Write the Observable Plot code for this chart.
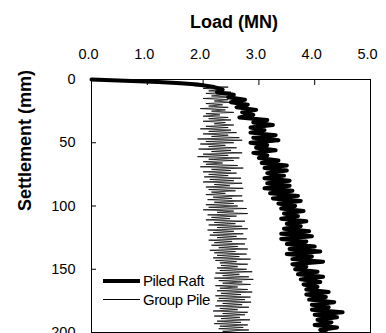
<!DOCTYPE html>
<html>
<head>
<meta charset="utf-8">
<script src="https://cdn.jsdelivr.net/npm/d3@7"></script>
<script src="https://cdn.jsdelivr.net/npm/@observablehq/plot@0.6"></script>
<style>
  html, body { margin: 0; padding: 0; background: #fff; }
  #wrap { position: relative; width: 386px; height: 333px; overflow: hidden; font-family: Arial, "Liberation Sans", sans-serif; }
  .leg { position: absolute; left: 103px; display: flex; align-items: center; font-size: 15px; letter-spacing: -0.4px; color: #000; }
  .leg .sw { width: 37px; background: #000; margin-right: 3px; }
</style>
</head>
<body>
<div id="wrap">
  <div id="chart"></div>
  <div class="leg" style="top:272px"><div class="sw" style="height:4px"></div><span>Piled Raft</span></div>
  <div class="leg" style="top:291px"><div class="sw" style="height:1px"></div><span>Group Pile</span></div>
</div>
<script>
// Load tick labels (MN) and settlement ticks (mm)
const xTicks = [0, 1, 2, 3, 4, 5];
const yTicks = [0, 50, 100, 150, 200];

// Piled Raft: settlement (mm) and load (MN)
const raftSettle = [0,1,2,3,4,5,6,8,10,12,14,16,18,20,22,24,26,28,30,32,34,36,38,40,42,44,46,48,50,52,54,56,58,60,62,64,66,68,70,72,74,76,78,80,82,84,86,88,90,92,94,96,98,100,102,104,106,108,110,112,114,116,118,120,122,124,126,128,130,132,134,136,138,140,142,144,146,148,150,152,154,156,158,160,162,164,166,168,170,172,174,176,178,180,182,184,186,188,190,192,194,196,198,200];
const raftLoad = [0,0.6,1.2,1.6,1.9,2.05,2.2,2.35,2.25,2.55,2.45,2.75,2.5,2.8,2.6,2.95,2.7,2.9,2.65,3.15,2.9,3.25,2.85,3.1,2.85,3.3,2.9,3.35,2.85,3.15,2.95,3.3,2.9,3.15,3.0,3.35,3.05,3.5,3.1,3.5,3.15,3.45,3.1,3.55,3.15,3.55,3.1,3.6,3.2,3.7,3.25,3.75,3.35,3.65,3.4,3.8,3.45,3.7,3.4,3.85,3.5,3.75,3.45,3.9,3.4,3.95,3.4,3.85,3.5,4.0,3.55,4.1,3.5,3.95,3.6,4.15,3.6,3.85,3.65,4.05,3.7,4.15,3.75,4.1,3.8,4.05,3.85,4.25,3.85,4.2,3.9,4.35,3.95,4.25,3.95,4.5,4.0,4.4,4.05,4.3,4.0,4.4,4.1,4.2];

// Group Pile: settlement (mm) and load (MN)
const groupSettle = [0,1,2,3,4,5,6,7,8,9,10,11,12,13,14,15,16,17,18,19,20,21,22,23,24,25,26,27,28,29,30,31,32,33,34,35,36,37,38,39,40,41,42,43,44,45,46,47,48,49,50,51,52,53,54,55,56,57,58,59,60,61,62,63,64,65,66,67,68,69,70,71,72,73,74,75,76,77,78,79,80,81,82,83,84,85,86,87,88,89,90,91,92,93,94,95,96,97,98,99,100,101,102,103,104,105,106,107,108,109,110,111,112,113,114,115,116,117,118,119,120,121,122,123,124,125,126,127,128,129,130,131,132,133,134,135,136,137,138,139,140,141,142,143,144,145,146,147,148,149,150,151,152,153,154,155,156,157,158,159,160,161,162,163,164,165,166,167,168,169,170,171,172,173,174,175,176,177,178,179,180,181,182,183,184,185,186,187,188,189,190,191,192,193,194,195,196,197,198,199,200];
const groupLoad = [0,0.85,1.4,1.75,2.05,1.85,2.45,2.0,2.35,2.1,2.5,2.05,2.4,2.15,2.55,2.0,2.45,2.2,2.5,2.05,2.35,2.1,2.45,1.95,2.4,2.15,2.55,2.05,2.3,2.0,2.45,2.1,2.5,2.0,2.4,2.2,2.55,2.05,2.45,1.95,2.5,2.1,2.6,2.0,2.45,2.15,2.65,1.9,2.7,2.05,2.55,1.95,2.4,2.1,2.6,1.92,2.5,2.15,2.7,2.0,2.45,1.9,2.65,2.1,2.55,2.0,2.35,2.05,2.62,1.95,2.72,2.15,2.5,2.0,2.6,2.1,2.45,2.02,2.68,2.12,2.55,2.0,2.7,2.2,2.48,2.05,2.72,2.1,2.58,2.15,2.4,2.05,2.7,2.18,2.52,2.08,2.72,2.2,2.55,2.05,2.62,2.1,2.78,2.0,2.55,2.25,2.8,2.08,2.6,2.15,2.48,2.05,2.75,2.2,2.58,2.1,2.7,2.25,2.8,2.08,2.55,2.18,2.72,2.12,2.6,2.25,2.78,2.1,2.52,2.2,2.75,2.15,2.62,2.28,2.8,2.12,2.58,2.2,2.78,2.25,2.65,2.18,2.85,2.22,2.6,2.3,2.8,2.32,2.62,2.25,2.78,2.3,2.88,2.22,2.65,2.35,2.82,2.2,2.9,2.28,2.7,2.35,2.85,2.22,2.62,2.3,2.8,2.25,2.88,2.32,2.68,2.22,2.85,2.28,2.75,2.25,2.86,2.35,2.7,2.22,2.82,2.3,2.62,2.18,2.8,2.35,2.75,2.2,2.66,2.32,2.84,2.25,2.68,2.2,2.8,2.3,2.72,2.28,2.82,2.35,2.62];

const raft = raftSettle.map((s, i) => ({settle: s, load: raftLoad[i]}));
const group = groupSettle.map((s, i) => ({settle: s, load: groupLoad[i]}));

const chart = Plot.plot({
  width: 386,
  height: 333,
  marginLeft: 91,
  marginRight: 16,
  marginTop: 79,
  marginBottom: 1,
  style: {fontFamily: "Arial, 'Liberation Sans', sans-serif", fontSize: "14.5px", color: "#000", background: "#fff", overflow: "visible"},
  x: {domain: [0, 5]},
  y: {domain: [0, 200], reverse: true},
  marks: [
    Plot.line(raft, {x: "load", y: "settle", stroke: "#000", strokeWidth: 4, strokeLinejoin: "round"}),
    Plot.line(group, {x: "load", y: "settle", stroke: "#000", strokeWidth: 0.75}),
    Plot.frame({stroke: "#000", strokeWidth: 1}),
    Plot.axisX({anchor: "top", ticks: xTicks, tickSize: -5, tickFormat: () => "", label: null}),
    Plot.text(xTicks, {x: d => d, frameAnchor: "top", dx: -3, dy: -25, text: d => d.toFixed(1), fontSize: 14.5, lineAnchor: "middle"}),
    Plot.axisY({anchor: "left", ticks: yTicks, tickSize: 0, tickPadding: 16, label: null}),
    Plot.axisY({anchor: "left", ticks: yTicks, tickSize: -5, tickFormat: () => "", label: null}),
    Plot.text(["Load (MN)"], {frameAnchor: "top", dx: 3, dy: -57, fontWeight: "bold", fontSize: 18, lineAnchor: "middle"}),
    Plot.text(["Settlement (mm)"], {frameAnchor: "left", dx: -66, dy: 5, rotate: -90, fontWeight: "bold", fontSize: 18, lineAnchor: "middle"})
  ]
});
document.getElementById("chart").appendChild(chart);
</script>
</body>
</html>
